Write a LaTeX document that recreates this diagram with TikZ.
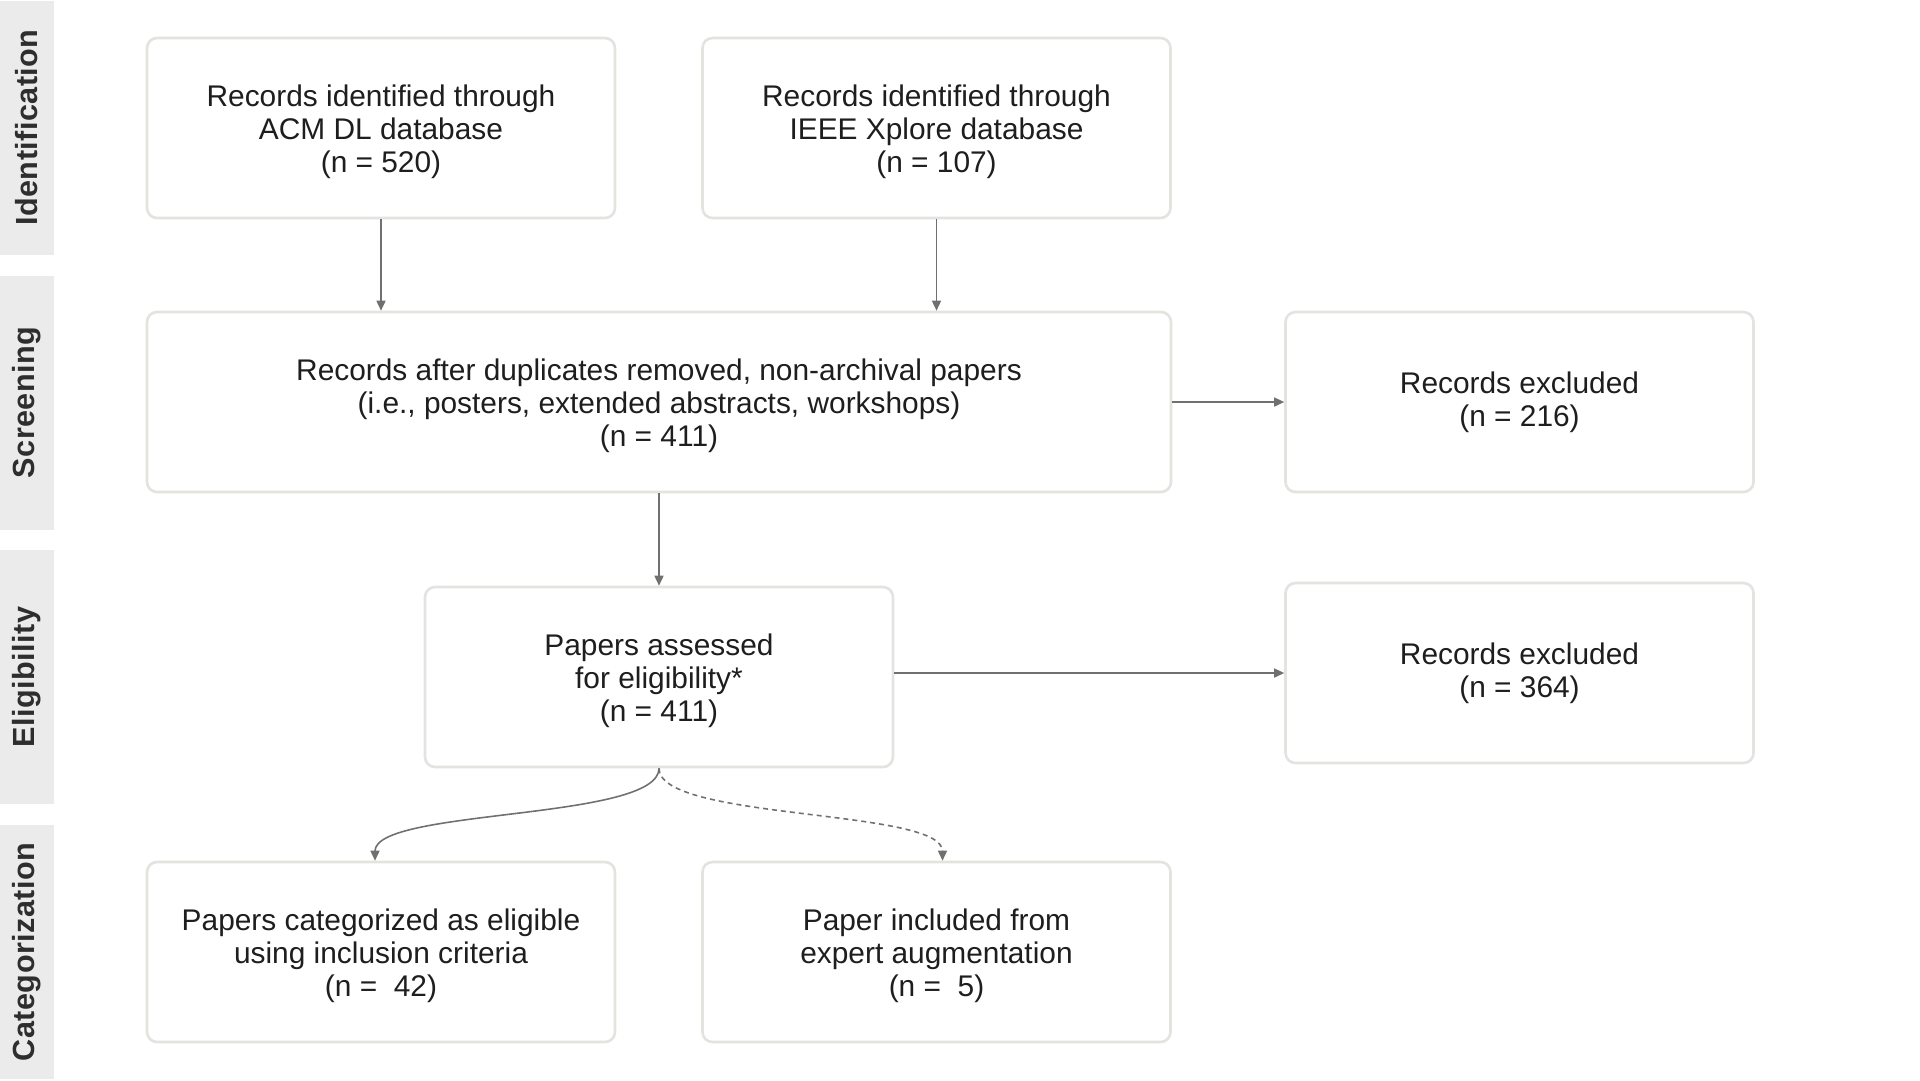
\documentclass[tikz,border=0pt]{standalone}
\usepackage{fontspec}
\setmainfont{Liberation Sans}
\newfontfamily\bandfont[LetterSpace=1.5]{Liberation Sans}
\usetikzlibrary{arrows.meta}
\definecolor{bandgray}{HTML}{EBEBEB}
\definecolor{boxline}{HTML}{E3E3E0}
\definecolor{arrowgray}{HTML}{707070}
\definecolor{ink}{HTML}{1E1E1E}
\definecolor{bandink}{HTML}{2E2E2E}
\newcommand{\tstrut}{\rule{0pt}{8.3pt}}
\begin{document}
\begin{tikzpicture}[x=0.1mm,y=-0.1mm,
 band/.style={fill=bandgray,text=bandink,font=\bandfont\bfseries\fontsize{8.7pt}{9pt}\selectfont,rotate=90,minimum width=25.4mm,minimum height=5.4mm,inner sep=0pt},
 box/.style={draw=boxline,line width=0.75pt,rounded corners=1mm,fill=white,text=ink,align=center,font=\fontsize{8.5pt}{9.4pt}\selectfont,minimum width=46.8mm,minimum height=18mm,inner sep=0pt},
 arr/.style={draw=arrowgray,line width=0.45pt,-{Triangle[length=1mm,width=0.9mm]}}]
 \useasboundingbox (0,0) rectangle (1920,1080);
 \node[band] (identification) at (27,127.5) {Identification};
 \node[band] (screening) at (27,402.5) {Screening};
 \node[band] (eligibility) at (27,677) {Eligibility};
 \node[band] (categorization) at (27,952) {Categorization};
 \node[box] (acm) at (381,128) {\tstrut Records identified through\\ACM DL database\\(n = 520)};
 \node[box] (ieee) at (936.5,128) {\tstrut Records identified through\\IEEE Xplore database\\(n = 107)};
 \node[box,minimum width=102.4mm] (dedup) at (659,402) {\tstrut Records after duplicates removed, non-archival papers\\(i.e., posters, extended abstracts, workshops)\\(n = 411)};
 \node[box] (excl1) at (1519.5,402) {Records excluded\\(n = 216)};
 \node[box] (assess) at (659,677) {\tstrut Papers assessed\\for eligibility*\\(n = 411)};
 \node[box] (excl2) at (1519.5,673) {Records excluded\\(n = 364)};
 \node[box] (incl) at (381,952) {\tstrut Papers categorized as eligible\\using inclusion criteria\\(n = \ 42)};
 \node[box] (expert) at (936.5,952) {\tstrut Paper included from\\expert augmentation\\(n = \ 5)};
 \draw[arr] (acm) -- (acm |- dedup.north);
 \draw[arr] (ieee) -- (ieee |- dedup.north);
 \draw[arr] (dedup) -- (excl1);
 \draw[arr] (dedup) -- (assess);
 \draw[arr] (assess.east |- excl2) -- (excl2.west);
 \draw[arr] (assess.south) to[out=-90,in=90,looseness=0.45] ([xshift=-0.6mm]incl.north);
 \draw[arr,dash pattern=on 0.5mm off 0.4mm] (assess.south) to[out=-90,in=90,looseness=0.45] ([xshift=0.6mm]expert.north);
\end{tikzpicture}
\end{document}
